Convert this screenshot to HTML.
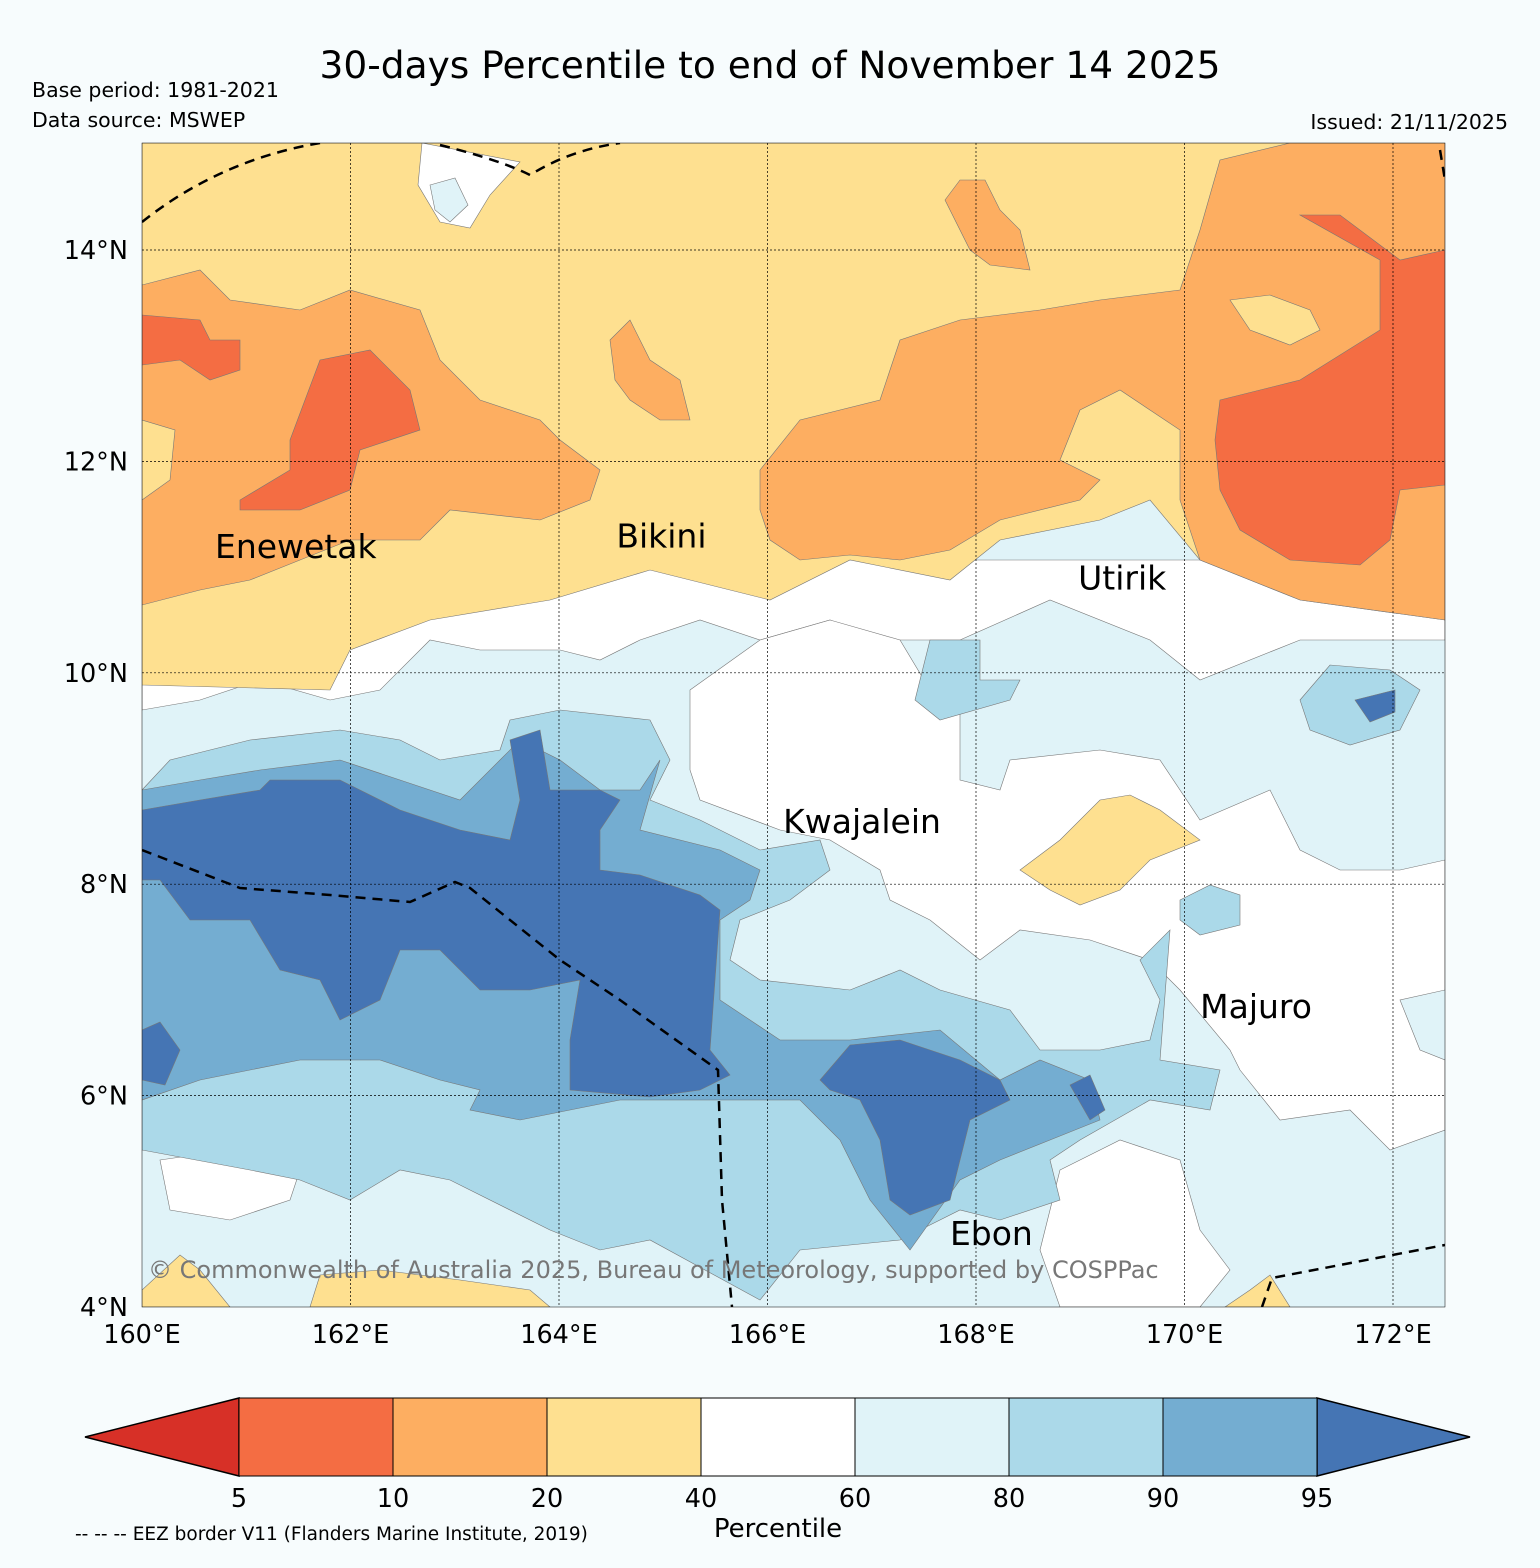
<!DOCTYPE html>
<html><head><meta charset="utf-8"><style>
body{margin:0;background:#f7fcfd;}
svg text{font-family:"DejaVu Sans","Liberation Sans",sans-serif;}
</style></head><body>
<svg id="s" width="1540" height="1563" xmlns="http://www.w3.org/2000/svg">
<rect width="1540" height="1563" fill="#f7fcfd"/>
<text x="770" y="78" font-size="37.5" text-anchor="middle">30-days Percentile to end of November 14 2025</text>
<text x="32" y="97" font-size="20.5">Base period: 1981-2021</text>
<text x="32" y="127" font-size="20.5">Data source: MSWEP</text>
<text x="1508" y="129" font-size="20.5" text-anchor="end">Issued: 21/11/2025</text>
<defs><clipPath id="mc"><rect x="142" y="143" width="1303" height="1164"/></clipPath></defs>
<g clip-path="url(#mc)">
<rect x="142" y="143" width="1303" height="1164" fill="#e0f3f8"/>
<polygon fill="#ffffff" stroke="#777" stroke-width="0.6" points="142,560 1445,560 1445,640 1300,640 1200,680 1150,640 1050,600 960,640 880,640 830,620 760,640 700,620 640,640 600,660 560,650 480,650 430,640 380,690 330,700 260,680 200,700 142,710"/>
<polygon fill="#ffffff" stroke="#777" stroke-width="0.6" points="690,690 760,640 830,620 900,640 930,690 960,700 960,780 1000,790 1010,760 1100,750 1160,760 1200,820 1270,790 1300,850 1340,870 1400,870 1445,860 1445,990 1400,1000 1420,1050 1445,1060 1445,1130 1390,1150 1350,1110 1280,1120 1240,1070 1230,1050 1180,990 1150,960 1090,940 1020,930 980,960 930,920 890,900 880,870 830,840 780,830 700,800 690,770"/>
<polygon fill="#ffffff" stroke="#777" stroke-width="0.6" points="1060,1170 1120,1140 1180,1160 1200,1230 1230,1270 1200,1307 1060,1307 1040,1250"/>
<polygon fill="#ffffff" stroke="#777" stroke-width="0.6" points="160,1160 230,1150 300,1170 290,1200 230,1220 170,1210"/>
<polygon fill="#ffffff" stroke="#777" stroke-width="0.6" points="560,1150 650,1140 720,1150 760,1180 720,1200 650,1190 580,1180"/>
<polygon fill="#abd9e9" stroke="#777" stroke-width="0.6" points="142,790 170,760 250,740 340,730 400,740 440,760 500,750 510,720 560,710 650,720 670,760 650,800 700,820 760,850 820,840 830,870 790,900 740,920 730,960 760,980 850,990 900,970 940,990 1010,1010 1040,1050 1100,1050 1150,1040 1160,1000 1140,960 1170,930 1160,1060 1220,1070 1210,1110 1150,1100 1080,1140 1050,1160 1060,1200 1000,1220 960,1210 900,1240 800,1250 760,1300 650,1240 600,1250 550,1230 450,1180 400,1170 350,1200 300,1180 250,1170 142,1150"/>
<polygon fill="#abd9e9" stroke="#777" stroke-width="0.6" points="1300,700 1330,665 1390,670 1420,690 1400,730 1350,745 1310,730"/>
<polygon fill="#abd9e9" stroke="#777" stroke-width="0.6" points="930,640 980,640 980,680 1020,680 1010,700 940,720 915,700"/>
<polygon fill="#abd9e9" stroke="#777" stroke-width="0.6" points="1180,900 1210,885 1240,895 1240,925 1200,935 1180,920"/>
<polygon fill="#74add1" stroke="#777" stroke-width="0.6" points="142,790 200,780 260,770 340,760 400,780 460,800 500,760 520,740 560,760 600,790 640,790 660,760 640,830 720,850 760,870 750,900 720,920 720,1000 780,1040 850,1040 940,1030 1000,1080 1040,1060 1090,1080 1100,1120 1050,1140 1000,1160 960,1180 910,1250 870,1200 840,1140 800,1100 720,1100 620,1100 520,1120 470,1110 480,1090 440,1080 380,1060 300,1060 200,1080 142,1100"/>
<polygon fill="#4575b4" stroke="#777" stroke-width="0.6" points="142,810 200,800 260,790 270,780 340,780 400,810 460,830 510,840 520,800 510,740 540,730 550,790 600,790 620,800 600,830 600,870 640,875 700,895 720,910 710,1050 730,1075 700,1090 650,1097 570,1090 570,1040 580,980 530,990 480,990 440,950 400,950 380,1000 340,1020 320,980 280,970 250,920 190,920 160,880 142,880"/>
<polygon fill="#4575b4" stroke="#777" stroke-width="0.6" points="820,1080 850,1045 900,1040 960,1060 1000,1080 1010,1100 970,1120 950,1200 910,1215 890,1200 880,1140 860,1100 830,1090"/>
<polygon fill="#4575b4" stroke="#777" stroke-width="0.6" points="142,1030 160,1022 180,1050 165,1085 142,1080"/>
<polygon fill="#4575b4" stroke="#777" stroke-width="0.6" points="1070,1085 1090,1075 1105,1110 1090,1120"/>
<polygon fill="#4575b4" stroke="#777" stroke-width="0.6" points="1355,700 1395,690 1395,712 1370,722"/>
<polygon fill="#fee090" stroke="#777" stroke-width="0.6" points="142,143 1445,143 1445,620 1300,600 1200,560 1150,500 1100,520 1000,540 950,580 850,560 770,600 650,570 550,600 430,620 350,650 330,690 142,685"/>
<polygon fill="#ffffff" stroke="#777" stroke-width="0.6" points="422,143 520,162 490,195 470,228 440,222 418,185"/>
<polygon fill="#e0f3f8" stroke="#777" stroke-width="0.6" points="430,185 455,178 468,205 450,222 435,210"/>
<polygon fill="#fee090" stroke="#777" stroke-width="0.6" points="1020,870 1060,840 1100,800 1130,795 1160,810 1200,840 1150,860 1120,890 1080,905 1050,890"/>
<polygon fill="#fee090" stroke="#777" stroke-width="0.6" points="142,1290 180,1255 200,1270 230,1307 142,1307"/>
<polygon fill="#fee090" stroke="#777" stroke-width="0.6" points="310,1307 320,1275 380,1270 460,1280 530,1290 550,1307"/>
<polygon fill="#fee090" stroke="#777" stroke-width="0.6" points="1225,1307 1250,1290 1270,1275 1290,1307"/>
<polygon fill="#fdae61" stroke="#777" stroke-width="0.6" points="142,285 200,270 230,300 300,310 350,290 420,310 440,360 480,400 540,420 560,440 600,470 590,500 540,520 450,510 420,540 350,540 300,560 250,580 200,590 142,605 142,500 170,480 175,430 142,420"/>
<polygon fill="#fdae61" stroke="#777" stroke-width="0.6" points="760,470 800,420 880,400 900,340 960,320 1040,310 1100,300 1180,290 1200,230 1220,160 1290,143 1445,143 1445,620 1300,600 1200,560 1180,500 1180,430 1120,390 1080,410 1060,460 1100,480 1080,500 1000,520 950,550 900,560 850,555 800,560 770,540 760,510"/>
<polygon fill="#fdae61" stroke="#777" stroke-width="0.6" points="610,340 630,320 650,360 680,380 690,420 660,420 630,400 615,380"/>
<polygon fill="#fdae61" stroke="#777" stroke-width="0.6" points="945,200 960,180 985,180 1000,210 1020,230 1030,270 990,265 970,250"/>
<polygon fill="#fee090" stroke="#777" stroke-width="0.6" points="1230,300 1270,295 1310,310 1320,330 1290,345 1250,330"/>
<polygon fill="#f46d43" stroke="#777" stroke-width="0.6" points="290,440 320,360 370,350 410,390 420,430 360,450 350,490 300,510 240,510 240,500 290,470"/>
<polygon fill="#f46d43" stroke="#777" stroke-width="0.6" points="142,315 200,320 210,340 240,340 240,370 210,380 180,360 142,365"/>
<polygon fill="#f46d43" stroke="#777" stroke-width="0.6" points="1220,400 1300,380 1380,330 1380,260 1300,215 1340,215 1400,260 1445,250 1445,485 1400,490 1390,540 1360,565 1290,560 1240,530 1220,490 1215,440"/>
<g fill="none" stroke="#000" stroke-width="2.5" stroke-dasharray="10,7">
<path d="M142,222 Q220,160 320,143"/>
<path d="M440,145 Q500,160 530,175 Q570,150 620,143"/>
<path d="M142,850 L240,888 L330,895 L410,902 L455,882 L470,888 L560,960 L620,1000 L718,1070 L722,1200 L732,1307"/>
<path d="M1262,1307 L1272,1278 L1340,1265 L1445,1245"/>
<path d="M1440,150 L1445,180"/>
</g>
</g>
<rect x="142" y="143" width="1303" height="1164" fill="none" stroke="#000" stroke-width="0.5"/>
<g id="grid"></g>
<g id="labels"></g>
<text x="148" y="1278" font-size="24" fill="#777">© Commonwealth of Australia 2025, Bureau of Meteorology, supported by COSPPac</text>
<g id="cbar"></g>
<text x="778" y="1537" font-size="26" text-anchor="middle">Percentile</text>
<text x="75" y="1540" font-size="18.5">-- -- -- EEZ border V11 (Flanders Marine Institute, 2019)</text>
</svg>
<script>
const lonTicks=[160,162,164,166,168,170,172];
const latTicks=[4,6,8,10,12,14];
const cbBounds=[5,10,20,40,60,80,90,95];
const cbColors=["#f46d43","#fdae61","#fee090","#ffffff","#e0f3f8","#abd9e9","#74add1"];
const places=["Enewetak","Bikini","Utirik","Kwajalein","Majuro","Ebon"];
const placeLon=[160.7,164.55,168.98,166.15,170.15,167.75];
const placeLat=[11.2,11.3,10.9,8.6,6.85,4.7];
const NS="http://www.w3.org/2000/svg";
const x=lon=>142+(lon-160)*104.25;
const y=lat=>1307-(lat-4)*105.7;
function mk(t,a,p){const e=document.createElementNS(NS,t);for(const k in a)e.setAttribute(k,a[k]);p.appendChild(e);return e;}
const g=document.getElementById('grid');
lonTicks.forEach(v=>{
 if(v>160){const l=mk('line',{x1:x(v),x2:x(v),y1:143,y2:1307,stroke:'#000','stroke-width':0.7,'stroke-dasharray':'2,2'},g);
 
 }
 const t=mk('text',{x:x(v),y:1343,'font-size':25.5,'text-anchor':'middle'},g);t.textContent=v+'°E';
 
 
});
latTicks.forEach(v=>{
 if(v>4){const l=mk('line',{x1:142,x2:1445,y1:y(v),y2:y(v),stroke:'#000','stroke-width':0.7,'stroke-dasharray':'2,2'},g);
 
 }
 const t=mk('text',{x:128,y:y(v)+9,'font-size':25.5,'text-anchor':'end'},g);t.textContent=v+'°N';
 
 
});
const lb=document.getElementById('labels');
places.forEach((p,i)=>{const t=mk('text',{x:x(placeLon[i]),y:y(placeLat[i])+12,'font-size':33},lb);t.textContent=p;
 
 });
const cb=document.getElementById('cbar');
const cx0=239,cw=154,cy0=1398,ch=78;
let p=mk('polygon',{points:`85,1437 ${cx0},${cy0} ${cx0},${cy0+ch}`,fill:'#d73027',stroke:'#000','stroke-width':1.5},cb);


const xe=cx0+cw*cbColors.length;
p=mk('polygon',{points:`${xe},${cy0} 1470,1437 ${xe},${cy0+ch}`,fill:'#4575b4',stroke:'#000','stroke-width':1.5},cb);


cbColors.forEach((c,i)=>{const r=mk('rect',{x:cx0+i*cw,y:cy0,width:cw,height:ch,fill:c,stroke:'#000','stroke-width':1},cb);
 
 });
cbBounds.forEach((b,i)=>{const t=mk('text',{x:cx0+i*cw,y:1507,'font-size':25.5,'text-anchor':'middle'},cb);t.textContent=b;
 
 });
</script>
</body></html>
